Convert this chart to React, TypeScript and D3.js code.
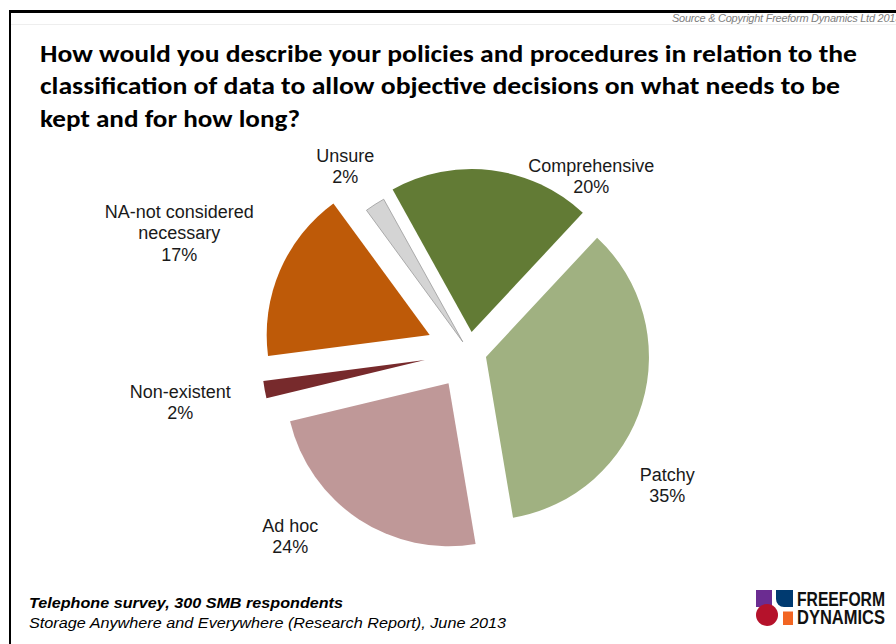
import React from "react";
import * as d3 from "d3";

const categories = ["Comprehensive", "Patchy", "Ad hoc", "Non-existent", "NA-not considered necessary", "Unsure"];
const values = [20, 35.4, 23.9, 1.7, 17.0, 2.0];
const labelLines = [["Comprehensive"], ["Patchy"], ["Ad hoc"], ["Non-existent"], ["NA-not considered", "necessary"], ["Unsure"]];
const titleLines = [
  "How would you describe your policies and procedures in relation to the",
  "classification of data to allow objective decisions on what needs to be",
  "kept and for how long?",
];
const footerLines = ["Telephone survey, 300 SMB respondents", "Storage Anywhere and Everywhere (Research Report), June 2013"];
const sourceText = "Source & Copyright Freeform Dynamics Ltd 2013";
const logoLines = ["FREEFORM", "DYNAMICS"];

// styles / layout
const colors = ["#627B35", "#A0B181", "#BF9898", "#772A2C", "#BE5A08", "#D4D4D4"];
const explode = [20, 17.5, 37.5, 45, 43, 12];
const labelOffsets: [number, number][] = [
  [122, -176],
  [198, 133],
  [-179, 184],
  [-289, 50],
  [-290, -119],
  [-124, -186],
];

const W = 896;
const H = 644;
const cx = 469.2;
const cy = 351.9;
const R = 163;

export default function App() {
  const pie = d3
    .pie<number>()
    .sort(null)
    .value((d) => d)
    .startAngle((-29 * Math.PI) / 180)
    .endAngle(2 * Math.PI - (29 * Math.PI) / 180);
  const arcs = pie(values);
  const arc = d3.arc<d3.PieArcDatum<number>>().innerRadius(0).outerRadius(R);
  const pct = (v: number) => d3.format(".0f")(v) + "%";
  const lineH = 21.5;

  return (
    <svg width={W} height={H} style={{ position: "absolute", left: 0, top: 0, background: "#fff" }}>
      <rect x={0} y={0} width={W} height={H} fill="#fff" />
      {/* frame */}
      <line x1={9} x2={W} y1={11.5} y2={11.5} stroke="#000" strokeWidth={3} />
      <line x1={10} x2={10} y1={10} y2={H} stroke="#000" strokeWidth={2} />
      <line x1={11} x2={W} y1={24.5} y2={24.5} stroke="#eeeeee" strokeWidth={1} />
      <text x={672} y={22} fontFamily="'Liberation Sans', Arial, sans-serif" fontStyle="italic" fontSize={11} fill="#7f7f7f" letterSpacing={-0.25}>
        {sourceText}
      </text>
      {/* title */}
      {titleLines.map((t, i) => (
        <text
          key={i}
          x={40}
          y={61.5 + i * 32.6}
          fontFamily="Carlito, 'Open Sans', sans-serif"
          fontWeight={700}
          fontSize={24}
          fill="#000"
          textLength={[817, 800, 260][i]}
          lengthAdjust="spacingAndGlyphs"
        >
          {t}
        </text>
      ))}
      {/* pie */}
      <g transform={`translate(${cx},${cy})`}>
        {arcs.map((a, i) => {
          const mid = (a.startAngle + a.endAngle) / 2;
          const dx = Math.sin(mid) * explode[i];
          const dy = -Math.cos(mid) * explode[i];
          return (
            <path
              key={categories[i]}
              d={arc(a) || ""}
              transform={`translate(${dx},${dy})`}
              fill={colors[i]}
              stroke={i === 5 ? "#9a9a9a" : "none"}
              strokeWidth={i === 5 ? 0.8 : 0}
            />
          );
        })}
        {arcs.map((a, i) => {
          const lines = [...labelLines[i], pct(values[i])];
          const [lx, ly] = labelOffsets[i];
          const top = ly - ((lines.length - 1) * lineH) / 2;
          return (
            <text
              key={"l" + i}
              textAnchor="middle"
              fontFamily="'Liberation Sans', Arial, sans-serif"
              fontSize={18}
              fill="#1a1a1a"
            >
              {lines.map((s, j) => (
                <tspan key={j} x={lx} y={top + j * lineH + 6.5}>
                  {s}
                </tspan>
              ))}
            </text>
          );
        })}
      </g>
      {/* footer */}
      <text x={29} y={608} fontFamily="'Liberation Sans', Arial, sans-serif" fontWeight={700} fontStyle="italic" fontSize={15} fill="#000" textLength={314} lengthAdjust="spacingAndGlyphs">
        {footerLines[0]}
      </text>
      <text x={29} y={628} fontFamily="'Liberation Sans', Arial, sans-serif" fontStyle="italic" fontSize={15} fill="#000" textLength={477} lengthAdjust="spacingAndGlyphs">
        {footerLines[1]}
      </text>
      {/* logo */}
      <g>
        <rect x={756} y={590} width={16} height={17} fill="#6B2C91" />
        <path d="M776,590 H793 V607 H784 A8,8 0 0 1 776,599 Z" fill="#003A70" />
        <circle cx={767} cy={615} r={11} fill="#B5122B" />
        <rect x={783} y={611.5} width={10} height={13.5} fill="#F26522" />
        <g transform="translate(885,605.5) scale(1,1.15)">
          <text
            textAnchor="end"
            fontFamily="'Liberation Sans Narrow', 'Liberation Sans', Arial, sans-serif"
            fontWeight={700}
            fontSize={18}
            fill="#111"
          >
            {logoLines.map((t, i) => (
              <tspan key={t} x={0} y={i * 16.5} textLength={88} lengthAdjust="spacingAndGlyphs">
                {t}
              </tspan>
            ))}
          </text>
        </g>
      </g>
    </svg>
  );
}
